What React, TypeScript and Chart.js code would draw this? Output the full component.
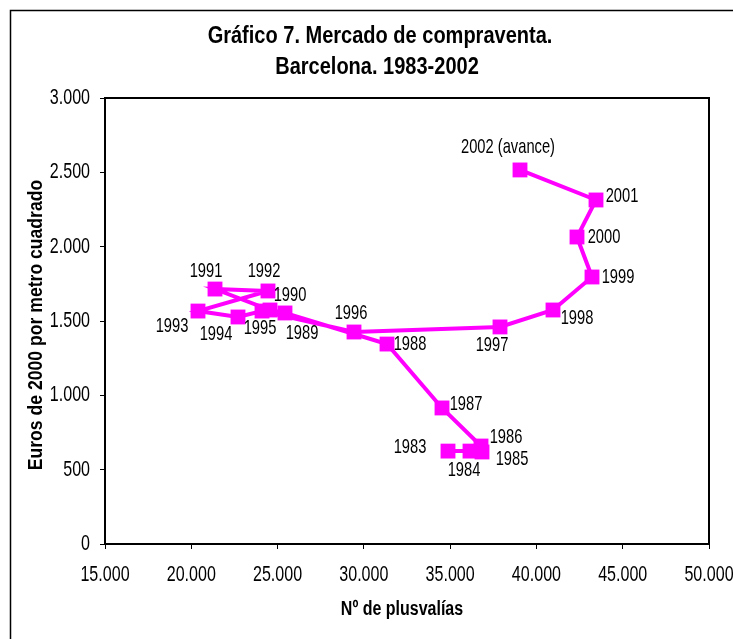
import React, { useEffect, useRef } from 'react';
import { Chart, registerables } from 'chart.js';
Chart.register(...registerables);

const years = ['1983', '1984', '1985', '1986', '1987', '1988', '1989', '1990', '1991', '1992', '1993', '1994', '1995', '1996', '1997', '1998', '1999', '2000', '2001', '2002 (avance)'];
const plusvalias = [34876, 36151, 36846, 36788, 34528, 31341, 25430, 24561, 21374, 24445, 20389, 22707, 24098, 29429, 37889, 40960, 43220, 42351, 43452, 39048];
const eurosM2 = [625, 625, 619, 659, 915, 1345, 1554, 1574, 1715, 1702, 1567, 1527, 1567, 1426, 1460, 1574, 1796, 2065, 2314, 2516];
const xTicks = [15000, 20000, 25000, 30000, 35000, 40000, 45000, 50000];
const yTicks = [0, 500, 1000, 1500, 2000, 2500, 3000];

// label placement offsets (px) relative to each point
const labelDx = [-38, -6, 30, 25, 24, 23, 17, 20, -9, -4, -26, -22, -2, -3, -8, 24, 26, 27, 26, -12];
const labelDy = [-4, 19, 7, -9, -4, 0, 20, -15, -18, -20, 15, 17, 17, -19, 18, 8, 0, 0, -4, -23];

const FONT = '"Liberation Sans", Arial, sans-serif';
const fmt = (v: number) => String(Math.round(v)).replace(/\B(?=(\d{3})+(?!\d))/g, '.');

function drawText(ctx: CanvasRenderingContext2D, text: string, x: number, y: number, font: string, sx: number, align: CanvasTextAlign, rot = 0) {
  ctx.save();
  ctx.font = font;
  ctx.fillStyle = '#000';
  ctx.textAlign = align;
  ctx.textBaseline = 'middle';
  ctx.translate(x, y);
  if (rot) ctx.rotate(rot);
  ctx.scale(sx, 1);
  ctx.fillText(text, 0, 0);
  ctx.restore();
}

export default function App() {
  const ref = useRef<HTMLCanvasElement>(null);
  useEffect(() => {
    if (!ref.current) return;
    const decor = {
      id: 'decor',
      afterDatasetsDraw(chart: any) {
        const ctx = chart.ctx;
        const meta = chart.getDatasetMeta(0);
        meta.data.forEach((pt: any, i: number) => {
          drawText(ctx, years[i], pt.x + labelDx[i], pt.y + labelDy[i], `21px ${FONT}`, 0.7, 'center');
        });
      },
      afterDraw(chart: any) {
        const ctx = chart.ctx;
        const a = chart.chartArea;
        const xs = chart.scales.x;
        const ys = chart.scales.y;
        ctx.save();
        ctx.strokeStyle = '#000';
        ctx.lineWidth = 2;
        ctx.strokeRect(a.left, a.top, a.right - a.left, a.bottom - a.top);
        ctx.lineWidth = 1.5;
        ctx.strokeRect(10.5, 10.5, 760, 700);
        ctx.restore();
        xTicks.forEach((v) => drawText(ctx, fmt(v), xs.getPixelForValue(v), 575, `22px ${FONT}`, 0.73, 'center'));
        yTicks.forEach((v) => drawText(ctx, fmt(v), a.left - 15, ys.getPixelForValue(v), `22px ${FONT}`, 0.73, 'right'));
        drawText(ctx, 'Gráfico 7. Mercado de compraventa.', 380, 37, `bold 23px ${FONT}`, 0.87, 'center');
        drawText(ctx, 'Barcelona. 1983-2002', 377, 68, `bold 23px ${FONT}`, 0.87, 'center');
        drawText(ctx, 'Nº de plusvalías', 402, 609, `bold 20px ${FONT}`, 0.8, 'center');
        drawText(ctx, 'Euros de 2000 por metro cuadrado', 36, 325, `bold 20px ${FONT}`, 0.88, 'center', -Math.PI / 2);
      },
    };
    const chart = new Chart(ref.current, {
      type: 'scatter',
      data: {
        datasets: [{
          data: plusvalias.map((x, i) => ({ x, y: eurosM2[i] })),
          showLine: true,
          borderColor: '#FF00FF',
          backgroundColor: '#FF00FF',
          borderWidth: 4,
          pointStyle: 'rect',
          pointRadius: 10.5,
          pointBorderWidth: 0,
        }],
      },
      options: {
        animation: false,
        responsive: false,
        devicePixelRatio: 1,
        layout: { padding: { left: 0, top: 98, right: 24, bottom: 0 } },
        plugins: { legend: { display: false }, tooltip: { enabled: false }, title: { display: false } },
        scales: {
          x: {
            type: 'linear',
            min: 15000,
            max: 50000,
            afterBuildTicks: (s: any) => { s.ticks = xTicks.map((v) => ({ value: v })); },
            afterFit: (s: any) => { s.height = 95; },
            ticks: { display: false },
            grid: { drawOnChartArea: false, drawTicks: true, tickLength: 5, color: '#000' },
            border: { display: true, color: '#000', width: 2 },
          },
          y: {
            type: 'linear',
            min: 0,
            max: 3000,
            afterBuildTicks: (s: any) => { s.ticks = yTicks.map((v) => ({ value: v })); },
            afterFit: (s: any) => { s.width = 105; },
            ticks: { display: false },
            grid: { drawOnChartArea: false, drawTicks: true, tickLength: 5, color: '#000' },
            border: { display: true, color: '#000', width: 2 },
          },
        },
      },
      plugins: [decor],
    });
    return () => chart.destroy();
  }, []);
  return (
    <div style={{ position: 'fixed', left: 0, top: 0, width: 733, height: 639, background: '#fff' }}>
      <canvas ref={ref} width={733} height={639} style={{ display: 'block', width: 733, height: 639 }} />
    </div>
  );
}
